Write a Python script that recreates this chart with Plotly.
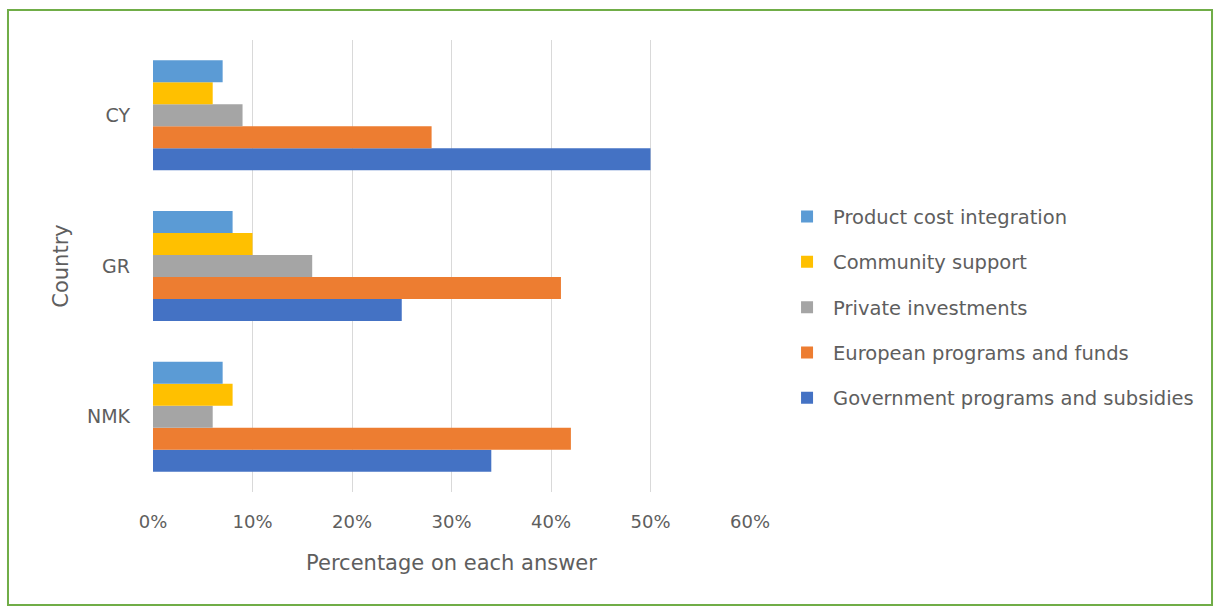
import plotly.graph_objects as go

# Survey results: share of answers per funding source, by country
countries = ["CY", "GR", "NMK"]
series_names = [
    "Product cost integration",
    "Community support",
    "Private investments",
    "European programs and funds",
    "Government programs and subsidies",
]
product_cost = [0.07, 0.08, 0.07]
community = [0.06, 0.10, 0.08]
private_inv = [0.09, 0.16, 0.06]
european = [0.28, 0.41, 0.42]
government = [0.50, 0.25, 0.34]
x_ticks = [0, 0.1, 0.2, 0.3, 0.4, 0.5, 0.6]

colors = {
    "Product cost integration": "#5B9BD5",
    "Community support": "#FFC000",
    "Private investments": "#A5A5A5",
    "European programs and funds": "#ED7D31",
    "Government programs and subsidies": "#4472C4",
}
values = {
    "Product cost integration": product_cost,
    "Community support": community,
    "Private investments": private_inv,
    "European programs and funds": european,
    "Government programs and subsidies": government,
}

FONT = "DejaVu Sans"
GREY = "#5e5e5e"

fig = go.Figure()
# the first trace sits at the bottom of each group, so add them in reverse;
# legendrank keeps the legend in the original series order
for name in reversed(series_names):
    fig.add_trace(go.Bar(
        y=countries, x=values[name], name=name, orientation="h",
        marker=dict(color=colors[name], line=dict(width=0)),
        legendgroup=name, legendrank=series_names.index(name) + 1,
    ))

fig.update_layout(
    width=1216, height=608,
    margin=dict(l=153, r=466, t=40, b=116),
    paper_bgcolor="white", plot_bgcolor="white",
    barmode="group", bargap=0.27, bargroupgap=0,
    font=dict(family=FONT, size=18, color=GREY),
    xaxis=dict(
        range=[0, 0.6], tickvals=x_ticks, tickformat=".0%",
        showgrid=True, gridcolor="#d9d9d9", gridwidth=1,
        zeroline=False, showline=False, ticks="",
        ticklabelstandoff=17,
        title=dict(text="Percentage on each answer", standoff=24,
                   font=dict(size=21, color=GREY)),
        tickfont=dict(size=18, color=GREY), fixedrange=True,
    ),
    yaxis=dict(
        categoryorder="array", categoryarray=["NMK", "GR", "CY"],
        showgrid=False, zeroline=False, showline=False, ticks="",
        ticklabelstandoff=22,
        title=dict(text="Country", standoff=12, font=dict(size=21, color=GREY)),
        tickfont=dict(size=19, color=GREY), fixedrange=True,
    ),
    legend=dict(
        x=1.052, y=0.652, xanchor="left", yanchor="top",
        traceorder="grouped", tracegroupgap=17, itemwidth=42,
        font=dict(size=19.5, color=GREY), bgcolor="rgba(0,0,0,0)",
    ),
    shapes=[dict(
        type="rect", xref="paper", yref="paper",
        x0=-0.2429, x1=1.7739, y0=-0.25, y1=1.0664,
        line=dict(color="#70AD47", width=2), fillcolor="rgba(0,0,0,0)",
    )],
)

fig.write_html("out.html")
